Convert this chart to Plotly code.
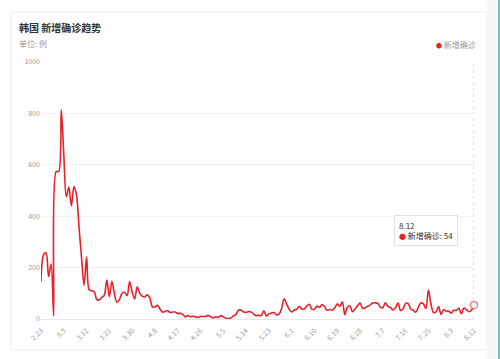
import plotly.graph_objects as go
import pandas as pd

# ---------------- data ----------------
start_date = "2020-02-23"
n_days = 172
dates = [f"{d.month}.{d.day}" for d in pd.date_range(start_date, periods=n_days, freq="D")]

new_cases = [
    145, 250, 258, 165, 214, 12, 574, 574, 814, 640, 476, 513, 440, 515, 483, 360, 240, 131,
    242, 114, 110, 107, 76, 74, 84, 93, 152, 87, 147, 98, 64, 76, 100, 104, 91, 146, 105, 78,
    125, 101, 89, 86, 94, 81,
    47, 47, 53, 39, 27, 30, 32, 25, 27, 27, 22, 22, 18, 8, 13, 9, 11, 8, 6, 10, 10, 10, 14, 9,
    4, 9, 6, 13, 8, 3, 2, 4,
    12, 18, 34, 35, 27, 26, 29, 27, 19, 13, 15, 13, 32, 12, 20, 23, 25, 16, 19, 40, 79, 58, 39,
    27, 35, 38, 49, 39, 39, 51, 57, 38, 38, 50, 45, 56, 48, 34, 37, 34, 43, 59, 49, 67,
    17, 46, 51, 28, 39, 51, 62, 42, 43, 50, 54, 63, 63, 61, 46, 44, 63, 49, 45, 35, 44, 62, 33,
    39, 61, 60, 39, 34, 26, 45, 63, 59, 41, 113,
    58, 25, 28, 48, 18, 36, 31, 30, 23, 34, 33, 43, 20, 43, 36, 28, 34, 54,
]

tick_labels = ["2.23", "3.3", "3.12", "3.21", "3.30", "4.8", "4.17", "4.26", "5.5", "5.14",
               "5.23", "6.1", "6.10", "6.19", "6.28", "7.7", "7.16", "7.25", "8.3", "8.12"]
y_ticks = [0, 200, 400, 600, 800, 1000]

series_name = "新增确诊"
title_text = "韩国 新增确诊趋势"
unit_text = "单位: 例"

# ---------------- style ----------------
RED = "#e6212a"
FONT = "Noto Sans CJK SC"

W, H = 500, 359
L, R, T, B = 41, 26, 62, 40
PW, PH = W - L - R, H - T - B


def px_x(px):
    return (px - L) / PW


def px_y(py):
    return (H - B - py) / PH


idx = list(range(n_days))
tick_idx = [dates.index(t) for t in tick_labels]
last = n_days - 1

fig = go.Figure()

fig.add_trace(go.Scatter(
    x=idx, y=new_cases, mode="lines", name=series_name,
    line=dict(color=RED, width=1.6, shape="spline", smoothing=0.9),
    hoverinfo="skip", showlegend=False, cliponaxis=False,
))

fig.add_trace(go.Scatter(
    x=[idx[last]], y=[new_cases[last]], mode="markers", showlegend=False,
    marker=dict(size=7, color="white", line=dict(color="rgba(230,33,42,0.65)", width=1.2)),
    hoverinfo="skip", cliponaxis=False,
))

shapes = [
    # card
    dict(type="rect", xref="paper", yref="paper",
         x0=px_x(11), x1=px_x(487), y0=px_y(350), y1=px_y(12),
         line=dict(color="#ececec", width=1), fillcolor="rgba(0,0,0,0)", layer="below"),
    # right grey strip
    dict(type="rect", xref="paper", yref="paper",
         x0=px_x(487.5), x1=px_x(498), y0=px_y(359), y1=px_y(0),
         line=dict(width=0), fillcolor="#f6f6f6", layer="below"),
    dict(type="rect", xref="paper", yref="paper",
         x0=px_x(498), x1=px_x(500), y0=px_y(359), y1=px_y(0),
         line=dict(width=0), fillcolor="#6cc7bd", layer="below"),
    # hover guide line
    dict(type="line", xref="x", yref="paper", x0=idx[last], x1=idx[last], y0=0, y1=1,
         line=dict(color="#c8c8c8", width=1, dash="dot"), layer="below"),
]

annotations = [
    dict(text=f"<b>{title_text}</b>", xref="paper", yref="paper", x=px_x(17), y=px_y(27),
         xanchor="left", yanchor="middle", showarrow=False,
         font=dict(family=FONT, size=10, color="#333333")),
    dict(text=unit_text, xref="paper", yref="paper", x=px_x(17), y=px_y(43.5),
         xanchor="left", yanchor="middle", showarrow=False,
         font=dict(family=FONT, size=8, color="#999999")),
    dict(text=f"<span style='color:{RED};font-size:6px'>●</span> {series_name}",
         xref="paper", yref="paper", x=px_x(478), y=px_y(44),
         xanchor="right", yanchor="middle", showarrow=False,
         font=dict(family=FONT, size=8, color="#999999")),
    dict(text=f"{dates[last]}<br><span style='color:{RED};font-size:7px'>●</span> {series_name}: {new_cases[last]}",
         x=idx[last], y=new_cases[last], xref="x", yref="y",
         xanchor="right", yanchor="bottom", xshift=-16, yshift=59,
         showarrow=False, align="left",
         bgcolor="white", bordercolor="#e2e2e2", borderwidth=1, borderpad=4,
         font=dict(family=FONT, size=8, color="#333333")),
]

fig.update_layout(
    width=W, height=H,
    margin=dict(l=L, r=R, t=T, b=B, pad=0),
    paper_bgcolor="white", plot_bgcolor="white",
    shapes=shapes, annotations=annotations,
    font=dict(family=FONT, size=7, color="#999999"),
    xaxis=dict(
        range=[0, last],
        tickmode="array", tickvals=tick_idx, ticktext=tick_labels,
        tickangle=-45, showgrid=False, zeroline=False, showline=False,
        ticks="outside", ticklen=4, tickcolor="rgba(0,0,0,0)",
        tickfont=dict(family=FONT, size=7, color="#999999"),
    ),
    yaxis=dict(
        range=[0, 1000], tickmode="array", tickvals=y_ticks,
        showgrid=True, gridcolor="#f2f2f2", gridwidth=1,
        zeroline=True, zerolinecolor="#e6e6e6", zerolinewidth=1,
        showline=False, ticks="", tickfont=dict(family=FONT, size=7, color="#999999"),
    ),
    hovermode=False,
)

fig.write_html("out.html")
